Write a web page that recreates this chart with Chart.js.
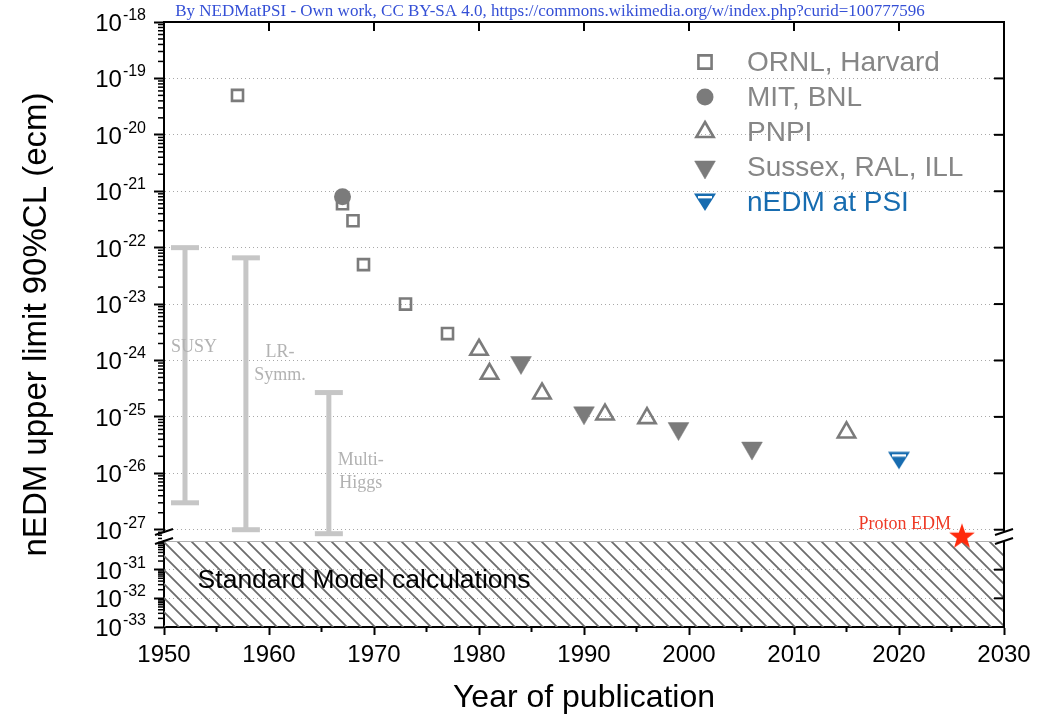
<!DOCTYPE html>
<html>
<head>
<meta charset="utf-8">
<title>nEDM upper limits</title>
<script src="https://cdn.jsdelivr.net/npm/chart.js@4.4.1/dist/chart.umd.min.js"></script>
<style>
  html, body { margin: 0; padding: 0; background: #fff; }
  canvas { display: block; }
</style>
</head>
<body>
<canvas id="edm" width="1056" height="722"></canvas>
<script>
// measured upper limits (e cm, 90% CL) by publication year
const ORNL_YEARS = [1957, 1967, 1968, 1969, 1973, 1977];
const ORNL_LIMITS = [5e-20, 6e-22, 3e-22, 5e-23, 1e-23, 3e-24];
const MIT_YEARS = [1967];
const MIT_LIMITS = [8e-22];
const PNPI_YEARS = [1980, 1981, 1986, 1992, 1996, 2015];
const PNPI_LIMITS = [1.55e-24, 5.8e-25, 2.6e-25, 1.1e-25, 9.5e-26, 5.3e-26];
const SUSSEX_YEARS = [1984, 1990, 1999, 2006];
const SUSSEX_LIMITS = [9.2e-25, 1.18e-25, 6.2e-26, 2.8e-26];
const PSI_YEARS = [2020];
const PSI_LIMITS = [1.7e-26];
const PROTON_YEARS = [2026];
const PROTON_LIMITS = [7.5e-28];

// theory predictions, drawn as ranges
const THEORY_NAMES = ['SUSY', 'LR-Symm.', 'Multi-Higgs'];
const THEORY_YEARS = [1952, 1957.8, 1965.7];
const THEORY_HIGH = [1e-22, 6.6e-23, 2.7e-25];
const THEORY_LOW = [3e-27, 1e-27, 8.5e-28];

// Standard Model band (lower panel)
const SM_YEARS = [1950, 2030];
const SM_LIMITS = [1e-30, 1e-30];

const YEAR_TICKS = [1950, 1960, 1970, 1980, 1990, 2000, 2010, 2020, 2030];
const UPPER_DECADES = [-18, -19, -20, -21, -22, -23, -24, -25, -26, -27];
const LOWER_DECADES = [-31, -32, -33];
const LEGEND_ORDER = ['ORNL, Harvard', 'MIT, BNL', 'PNPI', 'Sussex, RAL, ILL', 'nEDM at PSI'];

const GRAY = '#7b7b7b';
const BLUE = '#176cb0';
const THEORY_GRAY = '#c6c6c6';
const SANS = '"Liberation Sans", Arial, sans-serif';
const SERIF = '"Liberation Serif", "Times New Roman", serif';

function points(xs, ys) {
  return xs.map((x, i) => ({ x, y: ys[i] }));
}

function starImage(color) {
  const c = document.createElement('canvas');
  c.width = c.height = 30;
  const g = c.getContext('2d');
  g.fillStyle = color;
  g.beginPath();
  for (let i = 0; i < 10; i++) {
    const r = i % 2 ? 5.4 : 13.5;
    const a = -Math.PI / 2 + i * Math.PI / 5;
    g.lineTo(15 + r * Math.cos(a), 15 + r * Math.sin(a));
  }
  g.closePath();
  g.fill();
  return c;
}

function psiImage() {
  const c = document.createElement('canvas');
  c.width = 24;
  c.height = 20;
  const g = c.getContext('2d');
  g.fillStyle = BLUE;
  g.beginPath();
  g.moveTo(1, 1.5);
  g.lineTo(23, 1.5);
  g.lineTo(12, 19);
  g.closePath();
  g.fill();
  g.fillStyle = '#fff';
  g.fillRect(5, 4, 14, 2.4);
  return c;
}

function hatchPattern() {
  const c = document.createElement('canvas');
  c.width = c.height = 14;
  const g = c.getContext('2d');
  g.strokeStyle = '#6c6c6c';
  g.lineWidth = 1.8;
  g.beginPath();
  g.moveTo(-1, -1); g.lineTo(15, 15);
  g.moveTo(-1, 13); g.lineTo(1, 15);
  g.moveTo(13, -1); g.lineTo(15, 1);
  g.stroke();
  return document.createElement('canvas').getContext('2d').createPattern(c, 'repeat');
}

function seg(ctx, x1, y1, x2, y2) {
  ctx.beginPath();
  ctx.moveTo(x1, y1);
  ctx.lineTo(x2, y2);
  ctx.stroke();
}

function drawPower(ctx, exp, xRight, y) {
  ctx.textAlign = 'right';
  ctx.textBaseline = 'alphabetic';
  ctx.font = '16px ' + SANS;
  const sup = String(exp);
  const w = ctx.measureText(sup).width;
  ctx.fillText(sup, xRight, y - 2);
  ctx.font = '24px ' + SANS;
  ctx.fillText('10', xRight - w - 1, y + 9);
}

function minorTicks(ctx, scale, decades, x, len) {
  decades.forEach(n => {
    for (let k = 2; k <= 9; k++) {
      const v = k * Math.pow(10, n);
      if (v <= scale.min || v >= scale.max) continue;
      const y = scale.getPixelForValue(v);
      seg(ctx, x - len, y, x, y);
    }
  });
}

const decor = {
  id: 'decor',
  afterDraw(chart) {
    const { ctx, chartArea: area, scales } = chart;
    const up = scales.y, low = scales.y2, xs = scales.x;
    const split = up.bottom;
    ctx.save();

    // top and right frame with inward ticks
    ctx.strokeStyle = '#000';
    ctx.lineWidth = 2;
    seg(ctx, area.left - 1, area.top, area.right + 1, area.top);
    seg(ctx, area.right, area.top, area.right, split - 9);
    seg(ctx, area.right, split, area.right, area.bottom + 1);
    YEAR_TICKS.slice(1, -1).forEach(yr => {
      const x = xs.getPixelForValue(yr);
      seg(ctx, x, area.top, x, area.top + 9);
    });
    UPPER_DECADES.slice(1).forEach(n => {
      const y = up.getPixelForValue(Math.pow(10, n));
      seg(ctx, area.right - 10, y, area.right, y);
    });
    LOWER_DECADES.slice(0, -1).forEach(n => {
      const y = low.getPixelForValue(Math.pow(10, n));
      seg(ctx, area.right - 10, y, area.right, y);
    });

    // minor ticks
    ctx.lineWidth = 1.5;
    minorTicks(ctx, up, [-28, -27, -26, -25, -24, -23, -22, -21, -20, -19], area.left, 6);
    minorTicks(ctx, low, [-33, -32, -31], area.left, 6);
    ctx.lineWidth = 2;
    for (let yr = 1955; yr < 2030; yr += 10) {
      const x = xs.getPixelForValue(yr);
      seg(ctx, x, area.bottom, x, area.bottom + 5);
    }

    // axis break
    ctx.fillStyle = '#fff';
    ctx.fillRect(area.left - 2, split - 8, 4, 7);
    ctx.fillRect(area.right - 2, split - 8, 4, 7);
    [area.left, area.right].forEach(x => {
      seg(ctx, x - 9, split - 6, x + 9, split - 12);
      seg(ctx, x - 9, split + 3, x + 9, split - 3);
    });

    // tick labels with exponents
    ctx.fillStyle = '#000';
    UPPER_DECADES.forEach(n => drawPower(ctx, n, 146, up.getPixelForValue(Math.pow(10, n))));
    LOWER_DECADES.forEach(n => drawPower(ctx, n, 146, low.getPixelForValue(Math.pow(10, n))));

    // y title
    ctx.save();
    ctx.translate(37, (area.top + area.bottom) / 2);
    ctx.rotate(-Math.PI / 2);
    ctx.font = '33px ' + SANS;
    ctx.textAlign = 'center';
    ctx.textBaseline = 'middle';
    ctx.fillText('nEDM upper limit 90%CL (ecm)', 0, 0);
    ctx.restore();

    // theory labels
    const labelShift = [9, 34, 32];
    const labelAt = [1.74e-24, 1.42e-24, 1.67e-26];
    ctx.fillStyle = '#b2b2b2';
    ctx.font = '18px ' + SERIF;
    ctx.textAlign = 'center';
    ctx.textBaseline = 'middle';
    THEORY_NAMES.forEach((name, i) => {
      const x = xs.getPixelForValue(THEORY_YEARS[i]) + labelShift[i];
      const y = up.getPixelForValue(labelAt[i]);
      const lines = name === 'SUSY' ? [name] : name.replace('-', '-\n').split('\n');
      lines.forEach((t, j) => ctx.fillText(t, x, y + j * 23));
    });

    // band label
    ctx.fillStyle = '#000';
    ctx.font = '26.5px ' + SANS;
    ctx.textAlign = 'left';
    ctx.fillText('Standard Model calculations', xs.getPixelForValue(1953.2), low.getPixelForValue(Math.pow(10, -31.39)));

    // proton label
    ctx.fillStyle = '#ee3a26';
    ctx.font = '18px ' + SERIF;
    ctx.textAlign = 'right';
    ctx.textBaseline = 'alphabetic';
    ctx.fillText('Proton EDM', xs.getPixelForValue(PROTON_YEARS[0]) - 11, up.getPixelForValue(PROTON_LIMITS[0]) - 8);

    // legend
    ctx.textAlign = 'left';
    ctx.textBaseline = 'middle';
    ctx.font = '28px ' + SANS;
    LEGEND_ORDER.forEach((label, i) => {
      const ds = chart.data.datasets.find(d => d.label === label);
      const y = 62 + i * 35;
      ctx.fillStyle = ds.pointBackgroundColor;
      ctx.strokeStyle = ds.pointBorderColor;
      ctx.lineWidth = ds.pointBorderWidth;
      Chart.helpers.drawPoint(ctx, {
        pointStyle: ds.pointStyle,
        rotation: ds.pointRotation || 0,
        radius: ds.pointStyle === 'rect' ? ds.pointRadius + 1.5 : ds.pointRadius,
        borderWidth: ds.pointBorderWidth
      }, 705, y);
      ctx.fillStyle = label === 'nEDM at PSI' ? BLUE : '#868686';
      ctx.fillText(label, 747, y + 1);
    });

    // credit line
    ctx.fillStyle = '#3550d6';
    ctx.font = '17px ' + SERIF;
    ctx.textAlign = 'center';
    ctx.textBaseline = 'alphabetic';
    ctx.fillText('By NEDMatPSI - Own work, CC BY-SA 4.0, https://commons.wikimedia.org/w/index.php?curid=100777596', 550, 16);

    ctx.restore();
  }
};

const theorySets = THEORY_NAMES.map((name, i) => ({
  label: name,
  yAxisID: 'y',
  data: points([THEORY_YEARS[i], THEORY_YEARS[i]], [THEORY_HIGH[i], THEORY_LOW[i]]),
  showLine: true,
  borderColor: THEORY_GRAY,
  borderWidth: 5,
  pointStyle: 'line',
  pointRadius: 14,
  pointBorderWidth: 5,
  pointBorderColor: THEORY_GRAY,
  pointBackgroundColor: THEORY_GRAY
}));

const gridStyle = { color: '#a8a8a8', lineWidth: 1, tickLength: 10, tickWidth: 2, tickColor: '#000' };
const borderStyle = { color: '#000', width: 2, dash: [1, 3] };

new Chart(document.getElementById('edm'), {
  type: 'scatter',
  data: {
    datasets: [
      {
        label: 'MIT, BNL', yAxisID: 'y', data: points(MIT_YEARS, MIT_LIMITS),
        pointStyle: 'circle', pointRadius: 8.5, pointBorderWidth: 0,
        pointBackgroundColor: GRAY, pointBorderColor: GRAY
      },
      {
        label: 'ORNL, Harvard', yAxisID: 'y', data: points(ORNL_YEARS, ORNL_LIMITS),
        pointStyle: 'rect', pointRadius: 7.8, pointBorderWidth: 2.6,
        pointBackgroundColor: 'rgba(0,0,0,0)', pointBorderColor: GRAY
      },
      {
        label: 'PNPI', yAxisID: 'y', data: points(PNPI_YEARS, PNPI_LIMITS),
        pointStyle: 'triangle', pointRadius: 10, pointBorderWidth: 2.6,
        pointBackgroundColor: 'rgba(0,0,0,0)', pointBorderColor: GRAY
      },
      {
        label: 'Sussex, RAL, ILL', yAxisID: 'y', data: points(SUSSEX_YEARS, SUSSEX_LIMITS),
        pointStyle: 'triangle', pointRotation: 180, pointRadius: 12, pointBorderWidth: 0.5,
        pointBackgroundColor: GRAY, pointBorderColor: GRAY
      },
      {
        label: 'nEDM at PSI', yAxisID: 'y', data: points(PSI_YEARS, PSI_LIMITS),
        pointStyle: psiImage(), pointRadius: 10, pointBorderWidth: 0,
        pointBackgroundColor: BLUE, pointBorderColor: BLUE
      },
      {
        label: 'Proton EDM', yAxisID: 'y', data: points(PROTON_YEARS, PROTON_LIMITS),
        pointStyle: starImage('#ff2a0c'), pointRadius: 13, clip: false
      },
      ...theorySets,
      {
        label: 'Standard Model', yAxisID: 'y2', data: points(SM_YEARS, SM_LIMITS),
        showLine: true, fill: 'start', backgroundColor: hatchPattern(),
        borderColor: '#b0b0b0', borderWidth: 2, pointRadius: 0
      }
    ]
  },
  options: {
    responsive: false,
    animation: false,
    events: [],
    layout: { padding: { top: 22, right: 52, left: 0, bottom: 0 } },
    plugins: {
      legend: { display: false },
      tooltip: { enabled: false }
    },
    scales: {
      x: {
        type: 'linear',
        min: 1950,
        max: 2030,
        afterBuildTicks: s => { s.ticks = YEAR_TICKS.map(v => ({ value: v })); },
        afterFit: s => { s.height = 95; },
        grid: { drawOnChartArea: false, tickLength: 8, tickWidth: 2, tickColor: '#000' },
        border: { color: '#000', width: 2 },
        ticks: {
          color: '#000', font: { family: SANS, size: 24 }, padding: 6, autoSkip: false, maxRotation: 0,
          callback: v => String(v)
        },
        title: { display: true, text: 'Year of publication', color: '#000', font: { family: SANS, size: 32 }, padding: { bottom: 5 } }
      },
      // left boxes are laid out in reverse order, so the lower panel comes first
      y2: {
        type: 'logarithmic',
        position: 'left',
        stack: 'edm',
        stackWeight: 86,
        min: 1e-33,
        max: 1e-30,
        afterBuildTicks: s => { s.ticks = LOWER_DECADES.map(n => ({ value: Math.pow(10, n), major: true })); },
        afterFit: s => { s.width = 164; },
        grid: gridStyle,
        border: borderStyle,
        ticks: { display: false }
      },
      y: {
        type: 'logarithmic',
        position: 'left',
        stack: 'edm',
        stackWeight: 519,
        min: Math.pow(10, -27.2),
        max: 1e-18,
        afterBuildTicks: s => { s.ticks = UPPER_DECADES.map(n => ({ value: Math.pow(10, n), major: true })); },
        afterFit: s => { s.width = 164; },
        grid: gridStyle,
        border: borderStyle,
        ticks: { display: false }
      }
    }
  },
  plugins: [decor]
});
</script>
</body>
</html>
